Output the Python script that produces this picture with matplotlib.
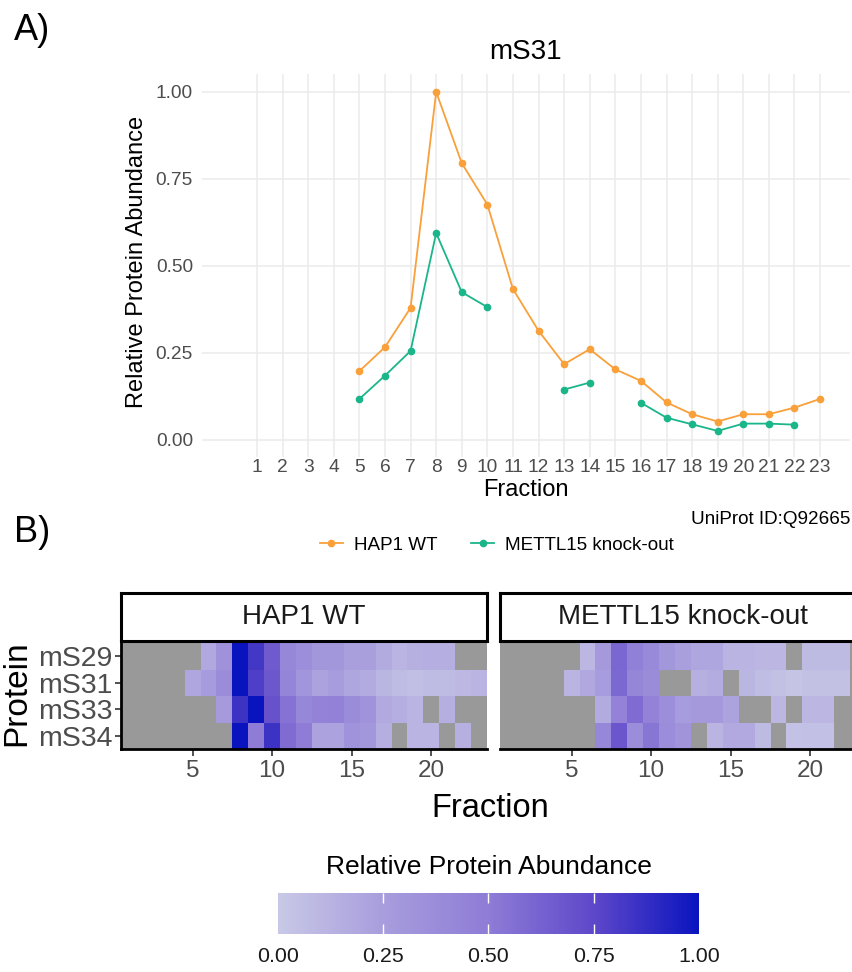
import numpy as np
import matplotlib
matplotlib.use('Agg')
import matplotlib.pyplot as plt
from matplotlib.colors import LinearSegmentedColormap

plt.rcParams['font.family'] = ['Liberation Sans', 'DejaVu Sans']

W, H = 853, 972
nan = np.nan

# ---- data ----
fractions = np.arange(1, 24)

wt_frac = np.arange(5, 24)
wt_vals = [0.197, 0.266, 0.379, 1.000, 0.795, 0.676, 0.433, 0.313, 0.217, 0.260,
           0.202, 0.169, 0.107, 0.073, 0.052, 0.073, 0.073, 0.092, 0.117]

ko_frac = np.arange(5, 23)
ko_vals = [0.117, 0.184, 0.255, 0.594, 0.424, 0.381, nan, nan, 0.144, 0.164,
           nan, 0.106, 0.063, 0.044, 0.025, 0.046, 0.046, 0.043]

proteins = ['mS29', 'mS31', 'mS33', 'mS34']
conditions = ['HAP1 WT', 'METTL15 knock-out']

# heatmap rows, fractions 1..23
wt_mS29 = [nan]*5 + [0.19, 0.34, 1.00, 0.83, 0.66, 0.42, 0.36, 0.30, 0.30, 0.24,
                     0.24, 0.17, 0.12, 0.14, 0.15, 0.15, nan, nan]
wt_mS31 = [nan]*4 + wt_vals
wt_mS33 = [nan]*6 + [0.27, 0.85, 1.00, 0.70, 0.55, 0.42, 0.45, 0.46, 0.38, 0.33,
                     0.18, 0.15, 0.12, nan, 0.15, nan, nan]
wt_mS34 = [nan]*7 + [1.00, 0.50, 0.85, 0.58, 0.50, 0.22, 0.22, 0.33, 0.30, 0.15,
                     nan, 0.12, 0.12, nan, 0.14, nan]

ko_mS29 = [nan]*5 + [0.10, 0.28, 0.60, 0.47, 0.40, 0.30, 0.24, 0.20, 0.20, 0.12,
                     0.12, 0.10, 0.10, nan, 0.08, 0.08, 0.08, nan]
ko_mS31 = [nan]*4 + ko_vals + [nan]
ko_mS33 = [nan]*6 + [0.17, 0.45, 0.58, 0.45, 0.36, 0.26, 0.28, 0.28, 0.22, nan,
                     nan, 0.10, nan, 0.10, 0.10, nan, nan]
ko_mS34 = [nan]*6 + [0.42, 0.68, 0.37, 0.53, 0.37, 0.32, nan, 0.12, 0.18, 0.18,
                     0.08, nan, 0.04, 0.05, 0.05, nan, nan]

heat = {
    'HAP1 WT': np.array([wt_mS29, wt_mS31, wt_mS33, wt_mS34]),
    'METTL15 knock-out': np.array([ko_mS29, ko_mS31, ko_mS33, ko_mS34]),
}

orange = '#F9A03A'
green = '#1BB58A'
grey30 = '#4D4D4D'

cmap = LinearSegmentedColormap.from_list(
    'abund', [(0, '#C8C8E6'), (0.25, '#A89DDD'), (0.5, '#8E7CD6'),
              (0.75, '#5E48CA'), (1, '#0A14BE')])
cmap.set_bad('#999999')


def px(l, t, r, b):
    return [l / W, 1 - b / H, (r - l) / W, (b - t) / H]


def ft(x, y, s, **kw):
    fig.text(x / W, 1 - y / H, s, **kw)


fig = plt.figure(figsize=(W / 100, H / 100), dpi=100)

# ---- A) line plot ----
ax = fig.add_axes(px(202, 74.5, 850, 457))
ax.plot(wt_frac, wt_vals, color=orange, lw=1.3, marker='o', ms=4.5, label='HAP1 WT')
ax.plot(ko_frac, ko_vals, color=green, lw=1.3, marker='o', ms=4.5, label='METTL15 knock-out')
ax.set_xlim(-1.15, 24.17)
ax.set_ylim(-0.05, 1.05)
ax.set_xticks(fractions)
ax.set_yticks([0, 0.25, 0.5, 0.75, 1.0])
ax.set_yticklabels(['0.00', '0.25', '0.50', '0.75', '1.00'])
ax.grid(color='#EBEBEB', lw=1.1)
ax.set_axisbelow(True)
for s in ax.spines.values():
    s.set_visible(False)
ax.tick_params(length=0, labelsize=13.8, labelcolor=grey30)
ax.tick_params(axis='y', pad=6.5)
ax.tick_params(axis='x', pad=1.5)

ft(526, 52, 'mS31', fontsize=20, ha='center', va='center')
ft(526, 490, 'Fraction', fontsize=17, ha='center', va='center')
ft(137, 262, 'Relative Protein Abundance', fontsize=17, ha='center', va='center', rotation=90)
ft(850, 520, 'UniProt ID:Q92665', fontsize=13.6, ha='right', va='center')
ft(14, 30, 'A)', fontsize=26, ha='left', va='center')
ft(14, 532, 'B)', fontsize=26, ha='left', va='center')

handles, labels = ax.get_legend_handles_labels()
fig.legend(handles, labels, loc='center', bbox_to_anchor=(497 / W, 1 - 545 / H),
           ncol=2, frameon=False, fontsize=13.6, handlelength=1.2,
           handletextpad=0.6, columnspacing=1.8)

# ---- B) heatmap ----
panels = [(121, 487), (500, 866)]
edges_x = np.arange(0.5, 24.5, 1)
edges_y = np.arange(0.5, 5.5, 1)
for i, cond in enumerate(conditions):
    l, r = panels[i]
    hx = fig.add_axes(px(l, 643, r, 749))
    hx.set_facecolor('#999999')
    z = np.ma.masked_invalid(heat[cond])
    hx.pcolormesh(edges_x, edges_y, z, cmap=cmap, vmin=0, vmax=1)
    hx.set_xlim(0.5, 23.5)
    hx.set_ylim(4.5, 0.5)
    hx.set_xticks([5, 10, 15, 20])
    hx.tick_params(axis='x', length=5, width=1.2, color='#333333', labelsize=17.5,
                   labelcolor=grey30, pad=3)
    for s in ['top', 'right']:
        hx.spines[s].set_visible(False)
    hx.spines['bottom'].set_linewidth(2)
    if i == 0:
        hx.set_yticks([1, 2, 3, 4])
        hx.set_yticklabels(proteins)
        hx.tick_params(axis='y', length=4, width=1.2, color='#333333', labelsize=20.5,
                       labelcolor=grey30, pad=2)
        hx.spines['left'].set_linewidth(2)
    else:
        hx.set_yticks([])
        hx.spines['left'].set_visible(False)

    sx = fig.add_axes(px(l, 593, r, 641))
    sx.set_xticks([])
    sx.set_yticks([])
    for s in sx.spines.values():
        s.set_linewidth(2.2)
    sx.text(0.5, 0.5, cond, transform=sx.transAxes, ha='center', va='center',
            fontsize=20, color='#1A1A1A')

ft(490, 808, 'Fraction', fontsize=23.5, ha='center', va='center')
ft(17, 693, 'Protein', fontsize=24, ha='center', va='center', rotation=90)

# colour bar
cax = fig.add_axes(px(278, 893, 699, 934))
sm = plt.cm.ScalarMappable(cmap=cmap, norm=plt.Normalize(0, 1))
cb = fig.colorbar(sm, cax=cax, orientation='horizontal')
cb.outline.set_visible(False)
cb.set_ticks([0, 0.25, 0.5, 0.75, 1.0])
cb.set_ticklabels(['0.00', '0.25', '0.50', '0.75', '1.00'])
cax.tick_params(axis='x', direction='in', length=7, width=1, color='white',
                labelsize=15.4, labelcolor='#1A1A1A', pad=9, top=True)
for k in (0, -1):
    t = cax.xaxis.get_major_ticks()[k]
    t.tick1line.set_visible(False)
    t.tick2line.set_visible(False)
ft(489, 867, 'Relative Protein Abundance', fontsize=19, ha='center', va='center')

fig.savefig('out.png', dpi=100)
